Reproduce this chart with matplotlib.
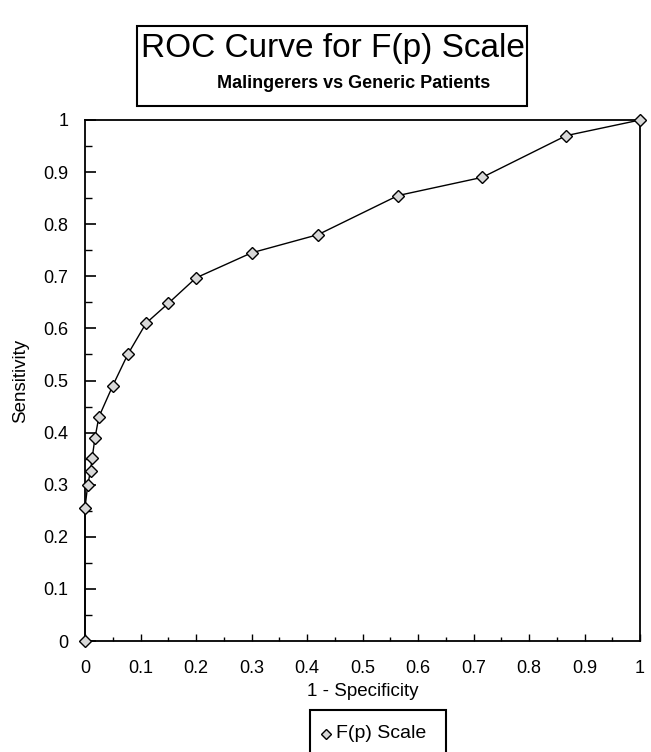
import matplotlib
matplotlib.use("Agg")
import matplotlib.pyplot as plt
from matplotlib.patches import Rectangle
from matplotlib.ticker import MultipleLocator
from matplotlib.lines import Line2D

plt.rcParams['font.family'] = ['Liberation Sans', 'DejaVu Sans']

# Data
fpr = [0.0, 0.0, 0.005, 0.01, 0.013, 0.018, 0.025, 0.05, 0.077, 0.11, 0.15,
       0.20, 0.30, 0.42, 0.564, 0.716, 0.867, 1.0]
tpr = [0.0, 0.256, 0.30, 0.327, 0.352, 0.39, 0.43, 0.49, 0.55, 0.61, 0.648,
       0.697, 0.745, 0.78, 0.855, 0.89, 0.97, 1.0]
xticks = [0, 0.1, 0.2, 0.3, 0.4, 0.5, 0.6, 0.7, 0.8, 0.9, 1]
xticklabels = ['0', '0.1', '0.2', '0.3', '0.4', '0.5', '0.6', '0.7', '0.8', '0.9', '1']
yticks = [0, 0.1, 0.2, 0.3, 0.4, 0.5, 0.6, 0.7, 0.8, 0.9, 1]
yticklabels = ['0', '0.1', '0.2', '0.3', '0.4', '0.5', '0.6', '0.7', '0.8', '0.9', '1']
series_name = 'F(p) Scale'

W, H = 651, 752
fig = plt.figure(figsize=(W / 100, H / 100), dpi=100)
fig.patch.set_facecolor('white')

ax = fig.add_axes([85 / W, 1 - 641 / H, 555 / W, (641 - 120) / H])
ax.plot(fpr, tpr, color='black', lw=1.0, marker='D', markersize=6.5,
        markerfacecolor='#d8d8d8', markeredgecolor='black', markeredgewidth=1.0,
        clip_on=False, zorder=3)
ax.set_xlim(0, 1)
ax.set_ylim(0, 1)
ax.set_xticks(xticks)
ax.set_xticklabels(xticklabels)
ax.set_yticks(yticks)
ax.set_yticklabels(yticklabels)
ax.xaxis.set_minor_locator(MultipleLocator(0.05))
ax.yaxis.set_minor_locator(MultipleLocator(0.05))
ax.tick_params(axis='y', which='major', direction='in', length=8, width=1.2,
               labelsize=13, pad=12, right=False)
ax.tick_params(axis='y', which='minor', direction='in', length=5, width=1.0, right=False)
ax.tick_params(axis='x', which='major', direction='in', length=5, width=1.0,
               labelsize=13, pad=14, top=False)
ax.tick_params(axis='x', which='minor', direction='in', length=3, width=1.0, top=False)
for s in ax.spines.values():
    s.set_linewidth(1.3)
    s.set_color('black')
ax.set_xlabel('1 - Specificity', fontsize=13.5, labelpad=4)
ax.set_ylabel('Sensitivity', fontsize=13.5, labelpad=10)

# Title box
fig.patches.append(Rectangle((137 / W, 1 - 106 / H), (527 - 137) / W, (106 - 26) / H,
                             transform=fig.transFigure, fill=False, edgecolor='black', lw=1.5))
fig.text(333 / W, 1 - 48 / H, 'ROC Curve for F(p) Scale', fontsize=24,
         ha='center', va='center')
fig.text(354 / W, 1 - 84 / H, 'Malingerers vs Generic Patients', fontsize=13,
         fontweight='bold', ha='center', va='center')

# Legend box
fig.patches.append(Rectangle((310 / W, 1 - 760 / H), (446 - 310) / W, (760 - 710) / H,
                             transform=fig.transFigure, fill=False, edgecolor='black',
                             lw=1.5, clip_on=False))
fig.add_artist(Line2D([326 / W], [1 - 734 / H], transform=fig.transFigure,
                      marker='D', markersize=5, markerfacecolor='#d8d8d8',
                      markeredgecolor='black', linestyle='none'))
fig.text(336 / W, 1 - 733 / H, series_name, fontsize=14, ha='left', va='center')

fig.savefig('out.png', dpi=100, facecolor='white')
